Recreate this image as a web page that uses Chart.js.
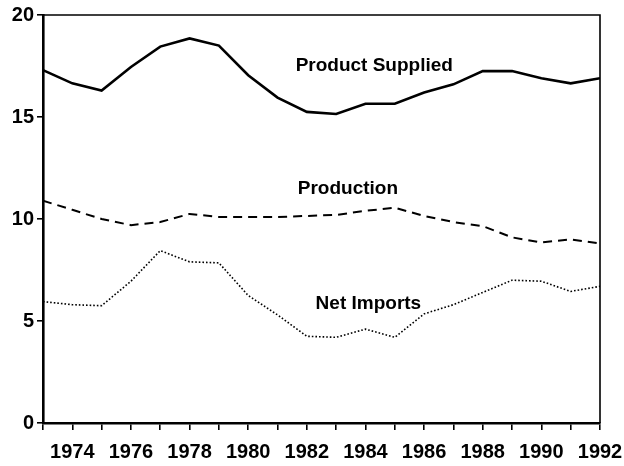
<!DOCTYPE html>
<html>
<head>
<meta charset="utf-8">
<script src="https://cdn.jsdelivr.net/npm/chart.js@4/dist/chart.umd.min.js"></script>
<style>
  html, body { margin: 0; padding: 0; background: #fff; }
  #wrap { width: 624px; height: 466px; }
</style>
</head>
<body>
<div id="wrap"><canvas id="chart" width="624" height="466"></canvas></div>
<script>
const years = [1973, 1974, 1975, 1976, 1977, 1978, 1979, 1980, 1981, 1982,
               1983, 1984, 1985, 1986, 1987, 1988, 1989, 1990, 1991, 1992];

const productSupplied = [17.3, 16.65, 16.3, 17.45, 18.45, 18.85, 18.5, 17.05, 15.95, 15.25,
                         15.15, 15.65, 15.65, 16.2, 16.6, 17.25, 17.25, 16.9, 16.65, 16.9];
const production = [10.9, 10.45, 10.0, 9.7, 9.85, 10.25, 10.1, 10.1, 10.1, 10.15,
                    10.2, 10.4, 10.55, 10.15, 9.85, 9.65, 9.1, 8.85, 9.0, 8.8];
const netImports = [5.95, 5.8, 5.75, 6.95, 8.45, 7.9, 7.85, 6.25, 5.3, 4.25,
                    4.2, 4.6, 4.2, 5.35, 5.8, 6.4, 7.0, 6.95, 6.45, 6.7];

const seriesNames = ["Product Supplied", "Production", "Net Imports"];
// where each series name sits, in data units (year, value)
const labelAt = [[1984.3, 17.5], [1983.4, 11.5], [1984.1, 5.85]];

const yTicks = [0, 5, 10, 15, 20];

const FONT = "'Liberation Sans', Arial, Helvetica, sans-serif";

const toXY = (vals) => vals.map((v, i) => ({ x: years[i], y: v }));

// box around the plot plus the in-chart series names
const framePlugin = {
  id: "frame",
  afterDatasetsDraw(chart) {
    const { ctx, chartArea: a, scales } = chart;
    ctx.save();
    ctx.strokeStyle = "#000";
    ctx.lineWidth = 1.6;
    ctx.beginPath();
    ctx.moveTo(a.left, a.top);
    ctx.lineTo(a.right, a.top);
    ctx.lineTo(a.right, a.bottom);
    ctx.stroke();

    ctx.fillStyle = "#000";
    ctx.font = "bold 19px " + FONT;
    ctx.textAlign = "center";
    ctx.textBaseline = "middle";
    seriesNames.forEach((name, i) => {
      const [yr, val] = labelAt[i];
      ctx.fillText(name, scales.x.getPixelForValue(yr), scales.y.getPixelForValue(val));
    });
    ctx.restore();
  }
};

new Chart(document.getElementById("chart"), {
  type: "line",
  data: {
    datasets: [
      {
        label: seriesNames[0],
        data: toXY(productSupplied),
        borderColor: "#000",
        borderWidth: 2.6,
        pointRadius: 0,
        tension: 0
      },
      {
        label: seriesNames[1],
        data: toXY(production),
        borderColor: "#000",
        borderWidth: 2,
        borderDash: [9, 6],
        pointRadius: 0,
        tension: 0
      },
      {
        label: seriesNames[2],
        data: toXY(netImports),
        borderColor: "#000",
        borderWidth: 1.6,
        borderDash: [1.6, 2],
        pointRadius: 0,
        tension: 0
      }
    ]
  },
  options: {
    responsive: false,
    animation: false,
    layout: { padding: { top: 12, right: 24, left: 0, bottom: 0 } },
    plugins: {
      legend: { display: false },
      tooltip: { enabled: false }
    },
    scales: {
      x: {
        type: "linear",
        min: years[0],
        max: years[years.length - 1],
        afterBuildTicks: (axis) => { axis.ticks = years.map(v => ({ value: v })); },
        afterFit: (axis) => {
          axis.height = 43;
          // end labels may hang past the plot edges
          axis.paddingLeft = 0;
          axis.paddingRight = 0;
        },
        ticks: {
          color: "#000",
          font: { family: FONT, size: 20, weight: "bold" },
          padding: 10,
          maxRotation: 0,
          autoSkip: false,
          callback: (v) => (v % 2 === 0 ? String(v) : "")
        },
        grid: {
          drawOnChartArea: false,
          color: "#000",
          lineWidth: 1.6,
          tickLength: 7
        },
        border: { display: true, color: "#000", width: 2.6 }
      },
      y: {
        min: 0,
        max: 20,
        afterBuildTicks: (axis) => { axis.ticks = yTicks.map(v => ({ value: v })); },
        afterFit: (axis) => { axis.width = 43; },
        ticks: {
          color: "#000",
          font: { family: FONT, size: 20, weight: "bold" },
          padding: 3
        },
        grid: {
          drawOnChartArea: false,
          color: "#000",
          lineWidth: 1.6,
          tickLength: 6
        },
        border: { display: true, color: "#000", width: 2.6 }
      }
    }
  },
  plugins: [framePlugin]
});
</script>
</body>
</html>
